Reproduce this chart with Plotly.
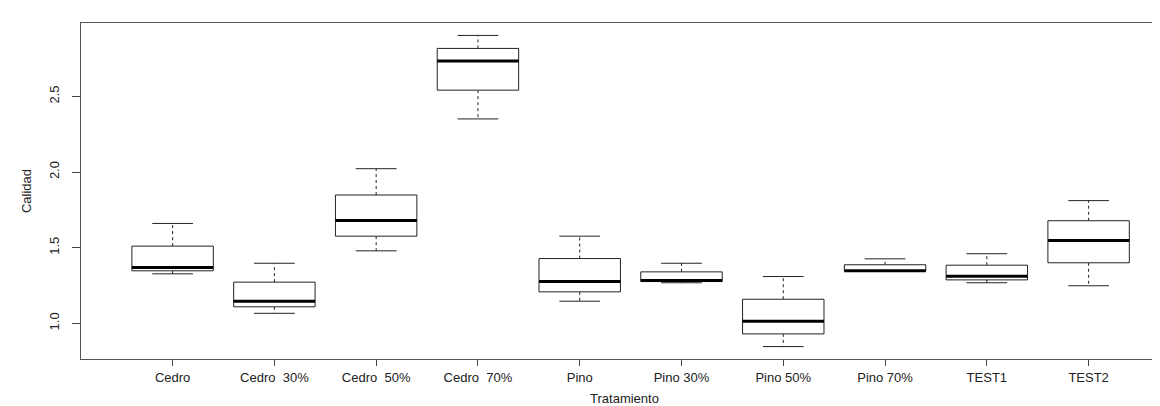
import plotly.graph_objects as go

categories = ["Cedro", "Cedro  30%", "Cedro  50%", "Cedro  70%", "Pino",
              "Pino 30%", "Pino 50%", "Pino 70%", "TEST1", "TEST2"]
lower_whisker = [1.327, 1.066, 1.479, 2.351, 1.146, 1.268, 0.846, 1.345, 1.268, 1.248]
q1 = [1.347, 1.109, 1.576, 2.541, 1.208, 1.276, 0.930, 1.345, 1.287, 1.400]
median = [1.369, 1.146, 1.680, 2.733, 1.276, 1.283, 1.013, 1.347, 1.311, 1.548]
q3 = [1.510, 1.272, 1.848, 2.817, 1.428, 1.340, 1.159, 1.387, 1.384, 1.678]
upper_whisker = [1.660, 1.397, 2.022, 2.903, 1.576, 1.397, 1.309, 1.426, 1.460, 1.811]
y_ticks = [1.0, 1.5, 2.0, 2.5]

BOX_HALF = 0.4
CAP_HALF = 0.2
LINE = "#222222"

fig = go.Figure()
for i, cat in enumerate(categories):
    x = i + 1
    # dashed whiskers
    fig.add_trace(go.Scatter(
        x=[x, x, None, x, x],
        y=[q3[i], upper_whisker[i], None, q1[i], lower_whisker[i]],
        mode="lines", line=dict(color=LINE, width=1, dash="3px,3px"),
        hoverinfo="skip", showlegend=False))
    # caps
    fig.add_trace(go.Scatter(
        x=[x - CAP_HALF, x + CAP_HALF, None, x - CAP_HALF, x + CAP_HALF],
        y=[upper_whisker[i], upper_whisker[i], None, lower_whisker[i], lower_whisker[i]],
        mode="lines", line=dict(color=LINE, width=1),
        hoverinfo="skip", showlegend=False))
    # box
    fig.add_trace(go.Scatter(
        x=[x - BOX_HALF, x + BOX_HALF, x + BOX_HALF, x - BOX_HALF, x - BOX_HALF],
        y=[q1[i], q1[i], q3[i], q3[i], q1[i]],
        mode="lines", line=dict(color=LINE, width=1),
        fill="toself", fillcolor="white",
        hoverinfo="skip", showlegend=False, name=cat))
    # median
    fig.add_trace(go.Scatter(
        x=[x - BOX_HALF, x + BOX_HALF], y=[median[i], median[i]],
        mode="lines", line=dict(color="black", width=3),
        hoverinfo="skip", showlegend=False))

font = dict(family="Liberation Sans, Arial, sans-serif", size=13, color="#222222")

fig.update_layout(
    width=1160, height=406,
    margin=dict(l=73, r=0, t=15, b=55, autoexpand=False),
    paper_bgcolor="white", plot_bgcolor="white",
    font=font,
    xaxis=dict(
        range=[0.1, 10.78], automargin=False,
        tickmode="array", tickvals=list(range(1, len(categories) + 1)),
        ticktext=[c.replace("  ", " \u00a0") for c in categories],
        ticks="outside", ticklen=6, tickcolor="#444444", tickwidth=1,
        showline=True, linecolor="#555555", linewidth=1, mirror=True,
        showgrid=False, zeroline=False,
        title=dict(text="Tratamiento", standoff=10, font=font),
        tickfont=font,
    ),
    yaxis=dict(
        range=[0.764, 2.985], automargin=False,
        tickmode="array", tickvals=y_ticks, ticktext=[f"{v:.1f}" for v in y_ticks],
        ticks="outside", ticklen=8, tickcolor="#444444", tickwidth=1,
        showline=True, linecolor="#555555", linewidth=1, mirror=False,
        showgrid=False, zeroline=False, tickangle=-90,
        ticklabelstandoff=8,
        title=dict(text="Calidad", standoff=12, font=font),
        tickfont=font,
    ),
)

fig.write_html("out.html")
